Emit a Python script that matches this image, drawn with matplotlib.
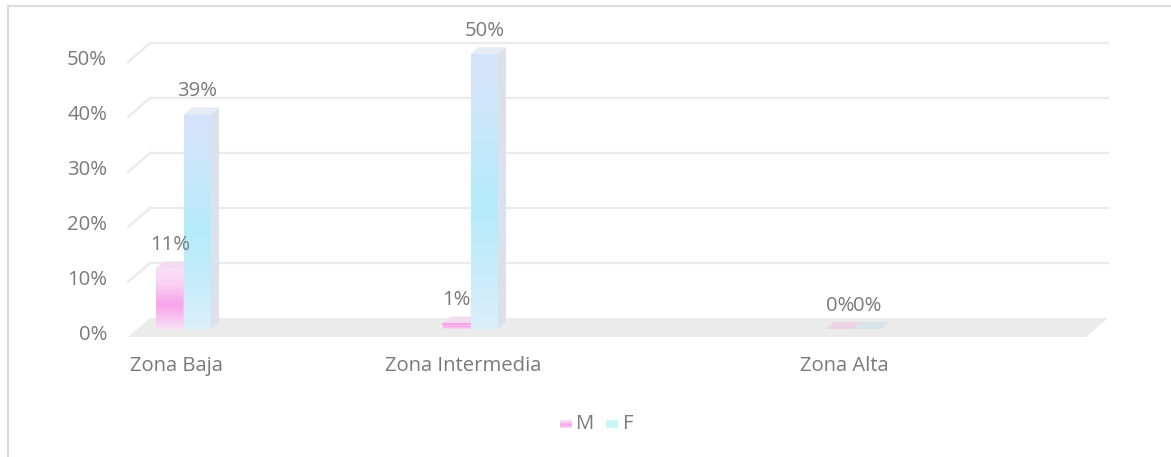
import numpy as np
import matplotlib
matplotlib.use("Agg")
import matplotlib.pyplot as plt
from matplotlib.patches import Polygon
from matplotlib.colors import to_rgb

plt.rcParams['font.family'] = ['Open Sans', 'DejaVu Sans']

# data
categories = ['Zona Baja', 'Zona Intermedia', 'Zona Alta']
series = ['M', 'F']
values_m = [11, 1, 0]
values_f = [39, 50, 0]
y_ticks = [0, 10, 20, 30, 40, 50]

# layout (x in pixels across the figure, y in percent units)
W, H = 1171, 457
px = 50 / 275.0                  # percent per pixel vertically
y_base_px = 318                  # back 0% line
group_x = [156, 443, 826]        # left edge of first bar in each group
label_x = [176, 463, 844]
bar_w = 27.5
floor_dx, floor_dy = 22, 19 * px
bar_dx, bar_dy = 8, 7 * px
bar_bot = -11 * px
wall_x0, wall_x1 = 150, 1108
text_col = '#7a7a7a'
grid_col = '#ebebeb'
fs = 14.6

fig = plt.figure(figsize=(W / 100, H / 100), dpi=100)
ax = fig.add_axes([0, 0, 1, 1])
ax.set_xlim(0, W)
ax.set_ylim(-(H - y_base_px) * px, y_base_px * px)
ax.axis('off')

# chart border (top and left)
fig.add_artist(plt.Line2D([8 / W, 1], [1 - 6 / H, 1 - 6 / H], color='#dcdcdc', lw=1.5))
fig.add_artist(plt.Line2D([8 / W, 8 / W], [0, 1 - 6 / H], color='#dcdcdc', lw=1.5))

# floor
ax.add_patch(Polygon([(wall_x0, 0), (wall_x1, 0), (wall_x1 - floor_dx, -floor_dy),
                      (wall_x0 - floor_dx, -floor_dy)], closed=True,
                     fc='#ebebeb', ec='none', zorder=1))

# gridlines on back + side wall
for v in y_ticks:
    if v > 0:
        ax.plot([wall_x0, wall_x1], [v, v], color=grid_col, lw=1.7, zorder=0.5)
        ax.plot([wall_x0 - floor_dx, wall_x0], [v - floor_dy, v], color=grid_col, lw=1.7, zorder=0.5)
    ax.text(107, v - 3.1, f'{v}%', ha='right', va='center', fontsize=fs, color=text_col)


def gradient(stops):
    pos = [p for p, c in stops]
    cols = np.array([to_rgb(c) for p, c in stops])
    t = np.linspace(0, 1, 64)
    img = np.stack([np.interp(t, pos, cols[:, k]) for k in range(3)], axis=1)
    return img[:, None, :]


grad_m = gradient([(0, '#fbe0f7'), (0.3, '#f9cdf2'), (0.6, '#f7a3e9'), (0.75, '#f8b8ee'), (1, '#f9e0f6')])
grad_f = gradient([(0, '#d6e3fb'), (0.2, '#cde7fb'), (0.55, '#b4ebfa'), (0.8, '#c8ecfb'), (1, '#dbeffb')])
grad_leg_f = gradient([(0, '#d4f6f8'), (0.5, '#c2f2f7'), (1, '#d4f6f8')])


def draw_bar(x0, val, grad, side_col, top_col, z):
    x1 = x0 + bar_w
    y0, y1 = bar_bot, bar_bot + val
    if val > 0:
        ax.imshow(grad, extent=[x0, x1, y0, y1], aspect='auto', interpolation='bilinear',
                  zorder=z, origin='upper')
        ax.add_patch(Polygon([(x1, y0), (x1 + bar_dx, y0 + bar_dy), (x1 + bar_dx, y1 + bar_dy), (x1, y1)],
                             closed=True, fc=side_col, ec='none', zorder=z))
    ax.add_patch(Polygon([(x0, y1), (x0 + bar_dx, y1 + bar_dy), (x1 + bar_dx, y1 + bar_dy), (x1, y1)],
                         closed=True, fc=top_col, ec='none', zorder=z + 0.1))
    if 0 < val < 3:
        ax.plot([x0, x1], [y1, y1], color='#f7a3e9', lw=1.5, zorder=z + 0.2)


for i, gx in enumerate(group_x):
    draw_bar(gx, values_m[i], grad_m, '#ecd7ea', '#f3dcef' if values_m[i] > 0 else '#ecd3e8', 2)
    draw_bar(gx + bar_w, values_f[i], grad_f, '#dae1ea', '#e6ecf3' if values_f[i] > 0 else '#d8e4ec', 3)
    ax.text(gx + bar_w / 2, bar_bot + values_m[i] + 4.2, f'{values_m[i]}%', ha='center', va='center',
            fontsize=fs, color=text_col, zorder=5)
    ax.text(gx + bar_w * 1.5, bar_bot + values_f[i] + 4.2, f'{values_f[i]}%', ha='center', va='center',
            fontsize=fs, color=text_col, zorder=5)
    ax.text(label_x[i], -(366 - y_base_px) * px, categories[i], ha='center', va='center',
            fontsize=fs, color=text_col)

# legend
leg_y = -(424 - y_base_px) * px
for x_sw, x_txt, name, grad in [(560, 576, 'M', grad_m), (606, 623, 'F', grad_leg_f)]:
    ax.imshow(grad, extent=[x_sw, x_sw + 12, leg_y - 4 * px, leg_y + 4 * px], aspect='auto',
              interpolation='bilinear', zorder=4)
    ax.text(x_txt, leg_y, name, ha='left', va='center', fontsize=fs, color=text_col)

ax.set_xlim(0, W)
ax.set_ylim(-(H - y_base_px) * px, y_base_px * px)
fig.savefig('out.png', dpi=100)
